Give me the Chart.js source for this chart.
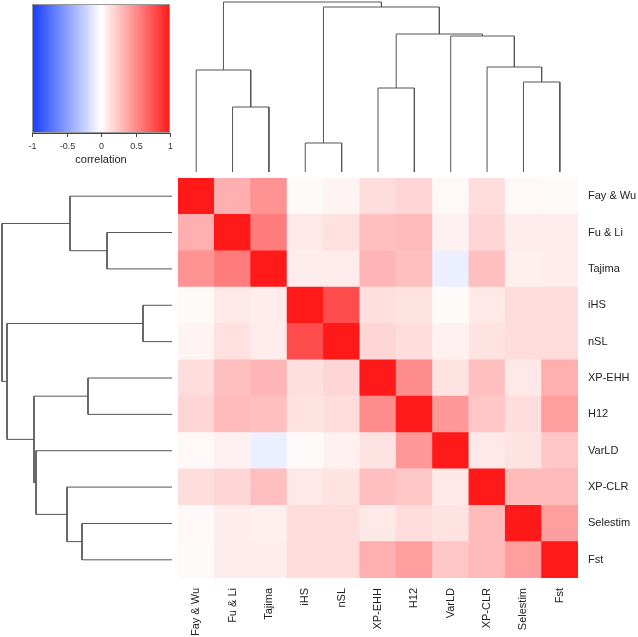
<!DOCTYPE html>
<html>
<head>
<meta charset="utf-8">
<script src="https://cdn.jsdelivr.net/npm/chart.js@4.4.1/dist/chart.umd.min.js"></script>
<style>
  body { margin: 0; background: #fff; }
  #wrap { width: 638px; height: 637px; position: relative; }
</style>
</head>
<body>
<div id="wrap"><canvas id="heat"></canvas></div>
<script>
// statistics, in dendrogram order
const statNames = ["Fay & Wu", "Fu & Li", "Tajima", "iHS", "nSL", "XP-EHH", "H12", "VarLD", "XP-CLR", "Selestim", "Fst"];

// correlation matrix rows (same order as statNames)
const corrFayWu   = [1.00, 0.35, 0.47, 0.02, 0.05, 0.15, 0.18, 0.03, 0.15, 0.03, 0.02];
const corrFuLi    = [0.35, 1.00, 0.57, 0.10, 0.13, 0.28, 0.30, 0.06, 0.18, 0.08, 0.08];
const corrTajima  = [0.47, 0.57, 1.00, 0.08, 0.08, 0.32, 0.28, -0.08, 0.28, 0.07, 0.08];
const corrIHS     = [0.02, 0.10, 0.08, 1.00, 0.78, 0.14, 0.12, 0.02, 0.10, 0.15, 0.15];
const corrNSL     = [0.05, 0.13, 0.08, 0.78, 1.00, 0.18, 0.15, 0.06, 0.12, 0.15, 0.15];
const corrXPEHH   = [0.15, 0.28, 0.32, 0.14, 0.18, 1.00, 0.50, 0.12, 0.28, 0.10, 0.35];
const corrH12     = [0.18, 0.30, 0.28, 0.12, 0.15, 0.50, 1.00, 0.45, 0.25, 0.15, 0.42];
const corrVarLD   = [0.03, 0.06, -0.08, 0.02, 0.06, 0.12, 0.45, 1.00, 0.10, 0.12, 0.25];
const corrXPCLR   = [0.15, 0.18, 0.28, 0.10, 0.12, 0.28, 0.25, 0.10, 1.00, 0.30, 0.30];
const corrSelestim= [0.03, 0.08, 0.07, 0.15, 0.15, 0.10, 0.15, 0.12, 0.30, 1.00, 0.42];
const corrFst     = [0.02, 0.08, 0.08, 0.15, 0.15, 0.35, 0.42, 0.25, 0.30, 0.42, 1.00];
const corrRows = [corrFayWu, corrFuLi, corrTajima, corrIHS, corrNSL, corrXPEHH, corrH12, corrVarLD, corrXPCLR, corrSelestim, corrFst];

// hclust style merges: negative = leaf (-(index+1)), positive = earlier merge number
const mergeA      = [-2, -4, -6, -10, -1, -9, -8, 3, 2, 5];
const mergeB      = [-3, -5, -7, -11, 1, 4, 6, 7, 8, 9];
const mergeHeight = [65, 29, 84, 90, 102, 105, 136, 138, 165, 170];

// colour key
const keyTicks = [-1, -0.5, 0, 0.5, 1];
const keyTitle = "correlation";

// blue - white - red colour ramp
function corrColor(v) {
  const t = Math.min(1, Math.abs(v));
  if (v >= 0) {
    const c = Math.round(255 - 230 * t);
    return "rgb(255," + c + "," + c + ")";
  }
  return "rgb(" + Math.round(255 - 235 * t) + "," + Math.round(255 - 195 * t) + ",255)";
}

// heatmap cells
const cells = [];
corrRows.forEach(function (row, i) {
  row.forEach(function (v, j) {
    cells.push({ x: j, y: i, v: v });
  });
});

// dendrogram links: each merge is a little "n" shape
function buildLinks() {
  const pos = [], hgt = [], links = [];
  function node(id) {
    if (id < 0) return { p: -id - 1, h: 0 };
    return { p: pos[id - 1], h: hgt[id - 1] };
  }
  for (let k = 0; k < mergeA.length; k++) {
    const a = node(mergeA[k]), b = node(mergeB[k]), h = mergeHeight[k];
    links.push([[a.p, a.h], [a.p, h], [b.p, h], [b.p, b.h]]);
    pos.push((a.p + b.p) / 2);
    hgt.push(h);
  }
  return links;
}
const links = buildLinks();

const lineStyle = { type: "scatter", showLine: true, borderColor: "#555", borderWidth: 1,
  pointRadius: 0, clip: false, fill: false, tension: 0 };

const datasets = [];
links.forEach(function (l) {
  // top tree
  datasets.push(Object.assign({}, lineStyle, {
    data: l.map(function (p) { return { x: p[0], y: p[1] }; }),
    xAxisID: "x", yAxisID: "yTop"
  }));
  // left tree
  datasets.push(Object.assign({}, lineStyle, {
    data: l.map(function (p) { return { x: p[1], y: p[0] }; }),
    xAxisID: "xLeft", yAxisID: "y"
  }));
});

datasets.push({
  type: "scatter",
  data: cells,
  xAxisID: "x",
  yAxisID: "y",
  pointStyle: "rect",
  borderWidth: 0,
  backgroundColor: function (c) { return c.raw ? corrColor(c.raw.v) : "#fff"; },
  pointRadius: function (c) {
    const a = c.chart.chartArea;
    if (!a) return 0;
    return (a.width / statNames.length + 0.7) / Math.SQRT2;
  }
});

// colour key drawn in the top-left corner
const colorKey = {
  id: "colorKey",
  afterDraw(chart) {
    const ctx = chart.ctx;
    const x0 = 32, x1 = 170, y0 = 4, y1 = 133;
    const grad = ctx.createLinearGradient(x0, 0, x1, 0);
    for (let s = 0; s <= 20; s++) {
      grad.addColorStop(s / 20, corrColor(-1 + s / 10));
    }
    ctx.save();
    ctx.fillStyle = grad;
    ctx.fillRect(x0, y0, x1 - x0, y1 - y0);
    ctx.strokeStyle = "#999";
    ctx.lineWidth = 1;
    ctx.strokeRect(x0 + 0.5, y0 + 0.5, x1 - x0 - 1, y1 - y0 - 1);
    ctx.strokeStyle = "#444";
    ctx.fillStyle = "#333";
    ctx.font = "9px 'Liberation Sans', Arial, sans-serif";
    ctx.textAlign = "center";
    ctx.textBaseline = "middle";
    keyTicks.forEach(function (t) {
      const x = Math.round(x0 + (t + 1) / 2 * (x1 - x0)) + 0.5;
      ctx.beginPath();
      ctx.moveTo(x, y1);
      ctx.lineTo(x, y1 + 4);
      ctx.stroke();
      ctx.fillText(String(t), x, 147);
    });
    ctx.beginPath();
    ctx.moveTo(x0, y1 + 0.5);
    ctx.lineTo(x1, y1 + 0.5);
    ctx.stroke();
    ctx.font = "11px 'Liberation Sans', Arial, sans-serif";
    ctx.fillStyle = "#222";
    ctx.fillText(keyTitle, (x0 + x1) / 2, 160);
    ctx.restore();
  }
};

const labelFont = { family: "'Liberation Sans', Arial, sans-serif", size: 11 };

new Chart(document.getElementById("heat"), {
  type: "scatter",
  data: { datasets: datasets },
  options: {
    responsive: true,
    maintainAspectRatio: false,
    animation: false,
    events: [],
    layout: { padding: { left: 178, top: 178, right: 0, bottom: 0 } },
    plugins: { legend: { display: false }, tooltip: { enabled: false } },
    scales: {
      x: {
        type: "linear", position: "bottom", min: -0.5, max: 10.5,
        grid: { display: false, drawTicks: false }, border: { display: false },
        afterBuildTicks: function (s) { s.ticks = statNames.map(function (_, i) { return { value: i }; }); },
        afterFit: function (s) { s.height = 59; },
        ticks: {
          autoSkip: false, minRotation: 90, maxRotation: 90, padding: 10,
          color: "#222", font: labelFont,
          callback: function (v) { return statNames[v]; }
        }
      },
      y: {
        type: "linear", position: "right", min: -0.5, max: 10.5, reverse: true,
        grid: { display: false, drawTicks: false }, border: { display: false },
        afterBuildTicks: function (s) { s.ticks = statNames.map(function (_, i) { return { value: i }; }); },
        afterFit: function (s) { s.width = 60; },
        ticks: {
          autoSkip: false, padding: 10, color: "#222", font: labelFont,
          callback: function (v) { return statNames[v]; }
        }
      },
      // height axes for the two trees (1 unit = 1 px, leaves 6 px off the map)
      yTop: { type: "linear", display: false, min: -406, max: -6 },
      xLeft: { type: "linear", display: false, min: -406, max: -6, reverse: true }
    }
  },
  plugins: [colorKey]
});
</script>
</body>
</html>
